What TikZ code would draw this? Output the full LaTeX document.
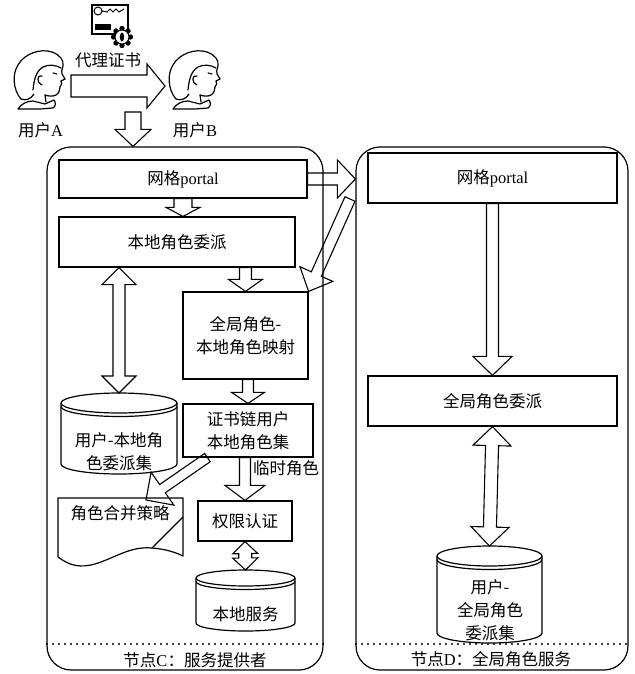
\documentclass[tikz,border=0pt]{standalone}
\usepackage{fontspec}
\setmainfont{Noto Sans CJK SC}
\newfontfamily\lat{Liberation Serif}
\usetikzlibrary{calc}

\tikzset{
  x=1pt, y=-1pt,
  box/.style={draw, line width=1.2pt, rectangle, inner sep=0pt, align=center,
    font=\fontsize{16.5}{23}\selectfont},
  txt/.style={inner sep=0pt, align=center, font=\fontsize{16.5}{23}\selectfont},
  container/.style={draw, line width=1.2pt, rounded corners=24pt, inner sep=0pt},
  blk/.style={draw, line width=1.1pt, line join=miter},
  dotline/.style={line width=2.3pt, line cap=round, dash pattern=on 0pt off 6pt},
  sketch/.style={line width=1.2pt, line join=round, line cap=round},
}

% hollow block arrow: start, end, shaft half width, head half width, head length
\newcommand\blockarrow[5]{%
  \coordinate (ba-h) at ($(#2)!#5pt!(#1)$);
  \draw[blk] ($(#1)!#3pt!90:(#2)$) -- ($(ba-h)!#3pt!90:(#2)$)
    -- ($(ba-h)!#4pt!90:(#2)$) -- (#2) -- ($(ba-h)!#4pt!-90:(#2)$)
    -- ($(ba-h)!#3pt!-90:(#2)$) -- ($(#1)!#3pt!-90:(#2)$) -- cycle;}

% hollow block arrow with heads at both ends
\newcommand\doublearrow[5]{%
  \coordinate (ba-a) at ($(#1)!#5pt!(#2)$);
  \coordinate (ba-b) at ($(#2)!#5pt!(#1)$);
  \draw[blk] (#1) -- ($(ba-a)!#4pt!90:(#2)$) -- ($(ba-a)!#3pt!90:(#2)$)
    -- ($(ba-b)!#3pt!90:(#2)$) -- ($(ba-b)!#4pt!90:(#2)$) -- (#2)
    -- ($(ba-b)!#4pt!-90:(#2)$) -- ($(ba-b)!#3pt!-90:(#2)$)
    -- ($(ba-a)!#3pt!-90:(#2)$) -- ($(ba-a)!#4pt!-90:(#2)$) -- cycle;}

% database cylinder: name, left x, right x, top y, bottom y, rim radius
\newcommand\database[6]{%
  \pgfmathsetmacro\dbrx{(#3-#2)/2}%
  \pgfmathsetmacro\dbcx{(#3+#2)/2}%
  \draw[line width=1.2pt] (#2,#4+#6) -- (#2,#5-#6)
    arc[start angle=180, end angle=360, x radius=\dbrx pt, y radius=#6pt]
    -- (#3,#4+#6)
    arc[start angle=0, end angle=180, x radius=\dbrx pt, y radius=#6pt];
  \draw[line width=1.2pt] (#2,#4+#6)
    arc[start angle=180, end angle=360, x radius=\dbrx pt, y radius=#6pt];
  \draw[line width=1.2pt] (#2,#4+#6+3.5)
    arc[start angle=180, end angle=360, x radius=\dbrx pt, y radius=#6pt];
  \coordinate (#1-top) at (\dbcx,#4);}

% outline portrait of a user, facing right
\newcommand\userface{%
  \draw[sketch] (21,99) .. controls (13,90) and (12,74) .. (18,65)
    .. controls (24,54) and (40,48) .. (52,52)
    .. controls (60,55) and (64,60) .. (63,66)
    .. controls (62,70) and (61,72) .. (62,74) -- (65,79) -- (61,81)
    .. controls (62,83) and (62,85) .. (60,87)
    .. controls (60,90) and (59,93) .. (56,95)
    .. controls (52,97) and (48,96) .. (45,95);
  \draw[sketch] (33,90) .. controls (34,80) and (36,71) .. (43,67)
    .. controls (49,64) and (56,65) .. (61,68);
  \draw[sketch] (42,76) .. controls (37,74) and (36,83) .. (42,85);
  \draw[sketch] (53,73) -- (57,74);
  \draw[sketch] (21,99) .. controls (26,101) and (31,99) .. (34,94);
  \draw[sketch] (45,95) -- (46,102);
  \draw[sketch] (18,109) .. controls (21,104) and (27,101) .. (33,101)
    -- (45,104) -- (54,100) .. controls (56,103) and (56,106) .. (53,108)
    -- (40,109) -- cycle;}

\begin{document}
\begin{tikzpicture}
\useasboundingbox (0,0) rectangle (634,674);

% the two service nodes
\node[container, minimum width=276pt, minimum height=523pt] (nodeC) at (185,408.5) {};
\node[container, minimum width=272pt, minimum height=523pt] (nodeD) at (492,408.5) {};
\draw[dotline] (47,644) -- (323,644);
\draw[dotline] (356,644) -- (628,644);
\node[txt] (labC) at (195,660) {节点{\lat C}：服务提供者};
\node[txt] (labD) at (491,659) {节点{\lat D}：全局角色服务};

% users and the proxy certificate
\begin{scope}\userface\end{scope}
\begin{scope}[shift={(155,0)}]\userface\end{scope}
\node[txt] (nameA) at (40.5,130) {用户{\lat A}};
\node[txt] (nameB) at (195,130) {用户{\lat B}};
\node[txt] (proxy) at (108,60) {代理证书};

\draw[line width=1.6pt] (92,5) rectangle (128,34);
\draw[line width=1pt] (98,11) circle (4pt);
\draw[line width=1pt] (102,11) -- (107,12) -- (110,9) -- (113,12) -- (116,9) -- (119,12) -- (124,9);
\fill (95,24) rectangle (111,30);
\foreach \a in {0,45,...,315} \fill (122,37) ++(\a:8.5pt) circle (2.7pt);
\draw[fill=white, line width=1pt] (122,37) circle (7pt);
\fill (122,37) ellipse (2.2pt and 4.5pt);

% boxes of node C
\node[box, minimum width=248pt, minimum height=38pt] (lportal) at (183,179) {网格{\lat portal}};
\node[box, minimum width=236pt, minimum height=50pt] (lrd) at (177,242) {本地角色委派};
\node[box, minimum width=125pt, minimum height=87pt] (map) at (245.5,335.5) {全局角色-\\本地角色映射};
\node[box, minimum width=130pt, minimum height=53pt] (cert) at (248,430.5) {证书链用户\\本地角色集};
\node[box, minimum width=94pt, minimum height=40pt] (auth) at (245,521) {权限认证};

\database{db1}{61}{177}{393}{474}{10}
\node[txt] (db1t) at (119,452) {用户-本地角\\色委派集};
\database{db2}{196}{295}{570}{631}{8}
\node[txt] (db2t) at (245.5,614) {本地服务};

% role merging policy document
\draw[line width=1.2pt, line join=round] (152,548)
  .. controls (165,549) and (175,552) .. (183,556) -- (183,498) -- (58,498) -- (58,557)
  .. controls (70,566) and (80,568) .. (95,564)
  .. controls (115,558) and (130,546) .. (152,548);
\draw[line width=1.2pt] (152,548) -- (183,517);
\node[txt] (merge) at (120,513) {角色合并策略};
\node[txt, anchor=west] (tmp) at (253,468) {临时角色};

% boxes of node D
\node[box, minimum width=249pt, minimum height=50pt] (rportal) at (492.5,178) {网格{\lat portal}};
\node[box, minimum width=249pt, minimum height=50pt] (grd) at (492.5,401) {全局角色委派};
\database{db3}{437}{542}{546}{643}{10}
\node[txt] (db3t) at (490,610) {用户-\\全局角色\\委派集};

% connector end points
\coordinate (pxS) at (71,86);
\coordinate (pxE) at (165,86);
\coordinate (inS) at (133,112);
\coordinate (inE) at (inS |- nodeC.north);
\coordinate (a3e) at (lportal.south |- lrd.north);
\coordinate (a4s) at (map.north |- lrd.south);
\coordinate (a5s) at (db1-top |- lrd.south);
\coordinate (a6s) at (cert.north |- map.south);
\coordinate (a7s) at (auth.north |- cert.south);
\coordinate (a8s) at ([xshift=25pt]cert.south west);
\coordinate (mergeTop) at (146,500);
\coordinate (a10e) at (lportal.east -| nodeD.west);
\coordinate (crossS) at (350,199);

% connectors
\blockarrow{pxS}{pxE}{11}{22}{18}
\blockarrow{inS}{inE}{8}{18}{17}
\blockarrow{lportal.south}{a3e}{9}{17}{9}
\blockarrow{a4s}{map.north}{6}{17}{12}
\doublearrow{a5s}{db1-top}{6}{17}{17}
\blockarrow{a6s}{cert.north}{5.5}{16.5}{11}
\blockarrow{a7s}{auth.north}{5.5}{20}{15}
\blockarrow{a8s}{mergeTop}{5}{20}{20}
\doublearrow{auth.south}{db2-top}{6.5}{12.5}{12}
\blockarrow{lportal.east}{a10e}{6}{19}{18}
\blockarrow{crossS}{map.north east}{5.5}{18}{19}
\blockarrow{rportal.south}{grd.north}{6}{19.5}{19}
\doublearrow{grd.south}{db3-top}{6.5}{19}{19}
\end{tikzpicture}
\end{document}
